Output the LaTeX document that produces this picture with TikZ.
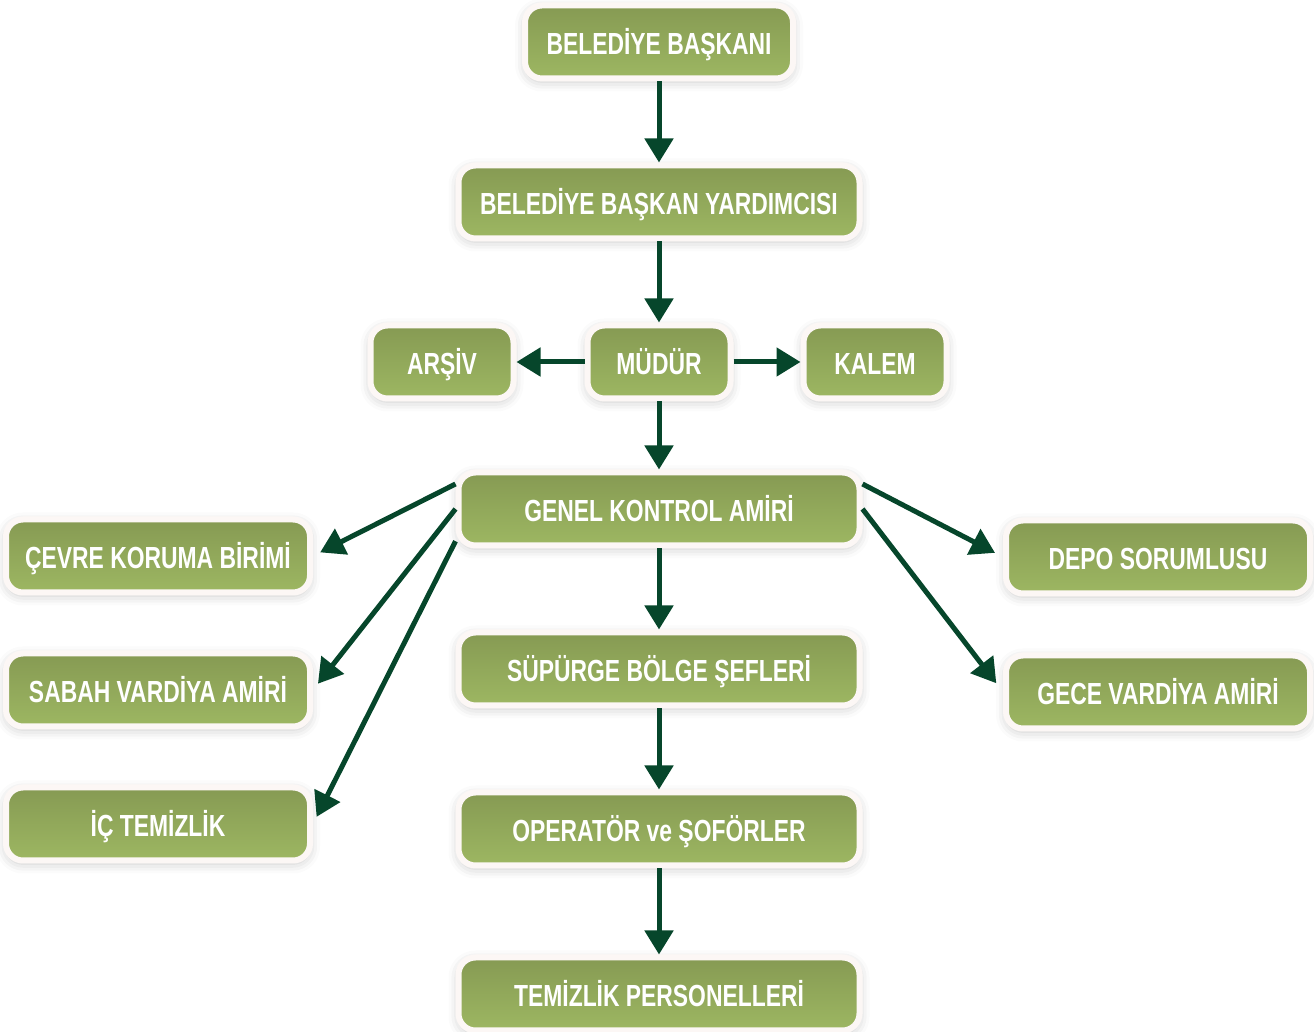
\documentclass[tikz,border=0pt]{standalone}
\usepackage{fontspec}
\newfontfamily\boxfont{Liberation Sans}[FakeStretch=0.75]
\usepackage{tikz}
\usetikzlibrary{
	arrows.meta,
	shadows.blur,
	positioning,
}
\definecolor{boxtop}{HTML}{869A53}
\definecolor{boxbottom}{HTML}{9DB762}
\definecolor{boxframe}{HTML}{FCF7F5}
\definecolor{arrowgreen}{HTML}{06462B}
\tikzset{unitbox/.style={
		% The shape:
		rectangle, rounded corners=17pt,
		% The size:
		minimum height=73pt, inner sep=0pt,
		text height=26pt, text depth=0pt,
		% The border:
		line width=6pt, draw=boxframe,
		% The filling:
		top color=boxtop, bottom color=boxbottom,
		blur shadow={shadow xshift=0pt, shadow yshift=-3pt,
			shadow blur radius=10pt, shadow opacity=22},
		% The text:
		text=white, font=\boxfont\bfseries\fontsize{30.5pt}{32pt}\selectfont,
	},
	widebox/.style={unitbox, minimum width=401pt},
	sidebox/.style={unitbox, minimum width=304pt},
	smallbox/.style={unitbox, minimum width=143pt},
}

\begin{document}
\begin{tikzpicture}[
	>= {Triangle[length=24pt,width=28pt]},
	line width=5pt, arrowgreen,
	node distance = 160pt,
	every new ->/.style={shorten >=3pt, shorten <=2pt}
	]
	\useasboundingbox (0,0) rectangle (1314pt,1032pt);

	%% center column
	\node (baskan) [unitbox, minimum width=268pt] at (659pt,990pt) {BELEDİYE BAŞKANI};
	\node (yardimci) [widebox] [below of=baskan] {BELEDİYE BAŞKAN YARDIMCISI};
	\node (mudur) [smallbox] [below of=yardimci] {MÜDÜR};
	\node (arsiv) [smallbox] [left of=mudur, node distance=217pt] {ARŞİV};
	\node (kalem) [smallbox] [right of=mudur, node distance=216pt] {KALEM};
	\node (genel) [widebox] [below of=mudur, node distance=147pt] {GENEL KONTROL AMİRİ};
	\node (supurge) [widebox] [below of=genel] {SÜPÜRGE BÖLGE ŞEFLERİ};
	\node (operator) [widebox] [below of=supurge] {OPERATÖR ve ŞOFÖRLER};
	\node (personel) [widebox] [below of=operator, node distance=165pt] {TEMİZLİK PERSONELLERİ};

	%% left column
	\node (cevre) [sidebox] at (158pt,476pt) {ÇEVRE KORUMA BİRİMİ};
	\node (sabah) [sidebox] [below of=cevre, node distance=134pt] {SABAH VARDİYA AMİRİ};
	\node (ic) [sidebox] [below of=sabah, node distance=134pt] {İÇ TEMİZLİK};

	%% right column
	\node (depo) [sidebox] at (1158pt,475pt) {DEPO SORUMLUSU};
	\node (gece) [sidebox] [below of=depo, node distance=135pt] {GECE VARDİYA AMİRİ};

	%% down the chain
	\draw[->] (baskan) to (yardimci);
	\draw[->] (yardimci) to (mudur);
	\draw[->] (mudur) to (arsiv);
	\draw[->] (mudur) to (kalem);
	\draw[->] (mudur) to (genel);
	\draw[->] (genel) to (supurge);
	\draw[->] (supurge) to (operator);
	\draw[->] (operator) to (personel);

	%% from the control chief to the sides
	\draw[->,shorten >=8pt] (genel.173) to (cevre.east);
	\draw[->,shorten >=8pt] (genel.180) to (sabah.east);
	\draw[->,shorten >=8pt] (genel.189) to (ic.east);
	\draw[->,shorten >=9pt] (genel.7) to (depo.west);
	\draw[->,shorten >=11pt] (genel.0) to (gece.west);

\end{tikzpicture}
\end{document}
